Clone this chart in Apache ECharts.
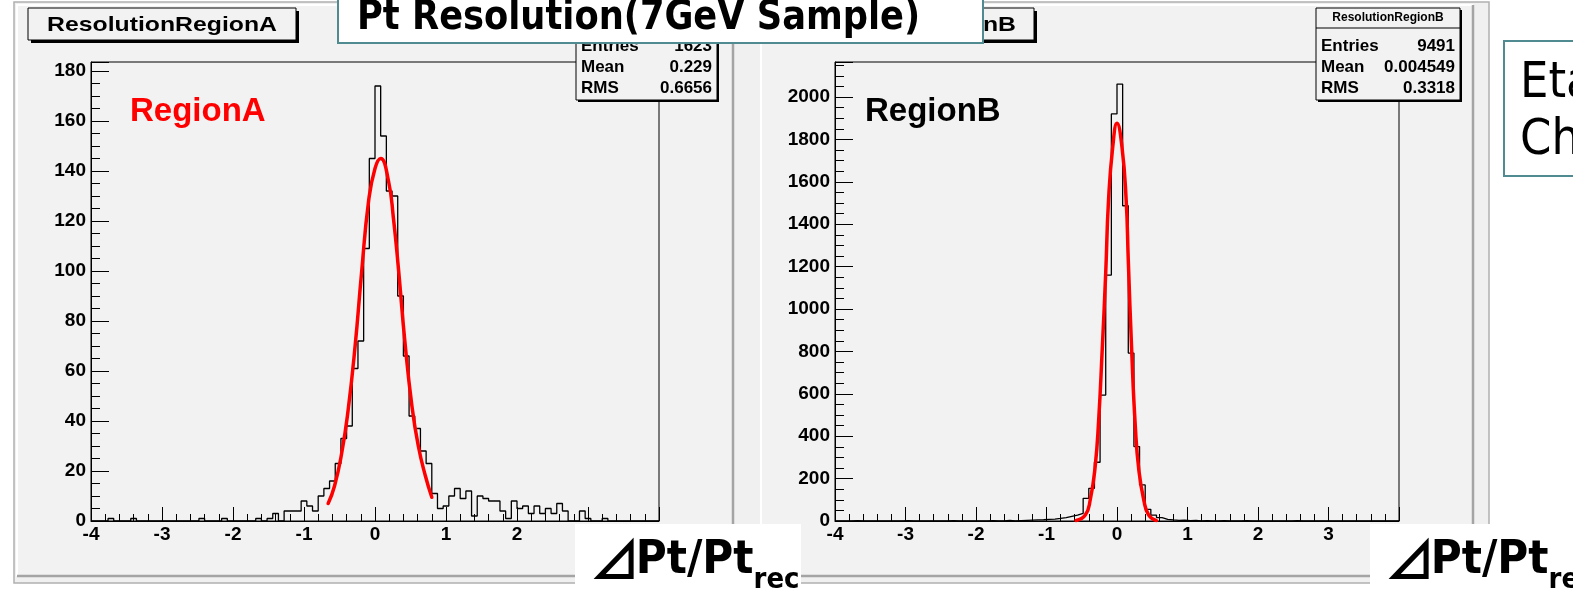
<!DOCTYPE html>
<html>
<head>
<meta charset="utf-8">
<script src="https://cdn.jsdelivr.net/npm/echarts@6/dist/echarts.min.js"></script>
<style>
  html, body { margin: 0; padding: 0; background: #ffffff; }
  #chart { width: 1573px; height: 589px; }
</style>
</head>
<body>
<div id="chart"></div>
<script>
// Histogram binning: 100 bins of 0.08 from -4 to 4
const binStart = -4;
const binWidth = 0.08;
const xTickLabels = ['-4', '-3', '-2', '-1', '0', '1', '2', '3'];

// Region A: counts per bin (dPt/Pt_rec)
const regionA = [
  0, 0, 0, 1, 0, 0, 0, 1, 0, 0,
  0, 0, 0, 0, 0, 0, 0, 0, 0, 1,
  0, 0, 0, 1, 0, 0, 0, 0, 0, 1,
  0, 1, 3, 0, 4, 4, 4, 8, 6, 4,
  10, 13, 16, 23, 33, 38, 61, 72, 109, 145,
  174, 154, 132, 130, 90, 66, 42, 37, 28, 23,
  11, 5, 6, 10, 13, 9, 12, 2, 10, 9,
  8, 8, 4, 1, 8, 5, 6, 3, 6, 3,
  5, 3, 7, 4, 0, 0, 4, 1, 0, 0,
  1, 0, 0, 0, 0, 0, 0, 0, 0, 0
];

// Region B: counts per bin
const regionB = [
  0, 0, 0, 2, 0, 0, 0, 0, 1, 0,
  0, 0, 2, 0, 0, 0, 1, 0, 0, 0,
  2, 0, 0, 0, 1, 0, 0, 2, 0, 0,
  3, 0, 2, 3, 4, 5, 6, 8, 9, 12,
  16, 22, 28, 36, 107, 154, 277, 594, 1160, 1920,
  2061, 1487, 792, 351, 170, 55, 28, 16, 8, 5,
  3, 4, 2, 3, 1, 2, 0, 1, 2, 0,
  1, 0, 2, 0, 0, 1, 0, 0, 1, 0,
  0, 2, 0, 0, 1, 0, 0, 0, 0, 1,
  0, 0, 0, 1, 0, 0, 0, 0, 0, 0
];

// Gaussian fit curves (points along the drawn fit)
const fitAx = [-0.66, -0.57, -0.47, -0.38, -0.28, -0.19, -0.09, 0, 0.08, 0.19, 0.26, 0.33, 0.42, 0.52, 0.61, 0.71, 0.8];
const fitAy = [7, 14, 27, 44, 70, 99, 128, 141, 145, 136, 121, 101, 72, 46, 30, 18, 9.5];
const fitBx = [-0.58, -0.45, -0.38, -0.31, -0.26, -0.21, -0.16, -0.12, -0.06, 0, 0.07, 0.13, 0.16, 0.21, 0.26, 0.31, 0.38, 0.45, 0.56];
const fitBy = [2, 28, 99, 256, 476, 806, 1170, 1514, 1766, 1876, 1766, 1514, 1231, 792, 445, 240, 99, 28, 2];

// Statistics boxes
const statsA = [['Entries', '1623'], ['Mean', '0.229'], ['RMS', '0.6656']];
const statsB = [['Entries', '9491'], ['Mean', '0.004549'], ['RMS', '0.3318']];

const yMaxA = 183.6;
const yMaxB = 2165;

const rootFont = '"Liberation Sans", Arial, sans-serif';
const slideFont = '"DejaVu Sans Condensed", "DejaVu Sans", sans-serif';
const padFill = '#f2f2f2';
const teal = '#4f8b90';

function stepData(counts) {
  const pts = counts.map((v, i) => [binStart + i * binWidth, v]);
  pts.push([binStart + counts.length * binWidth, counts[counts.length - 1]]);
  return pts;
}
function pairs(xs, ys) { return xs.map((x, i) => [x, ys[i]]); }

function measure(text, font) {
  const ctx = document.createElement('canvas').getContext('2d');
  ctx.font = font;
  return ctx.measureText(text);
}

function xAxisFor(gridIndex) {
  return {
    type: 'value', gridIndex, min: -4, max: 4, interval: 1,
    axisLine: { show: true, onZero: false, lineStyle: { color: '#000', width: 1 } },
    axisTick: { show: true, inside: true, length: 14, lineStyle: { color: '#000', width: 1 } },
    minorTick: { show: true, splitNumber: 5, length: 7, lineStyle: { color: '#000', width: 1 } },
    splitLine: { show: false },
    axisLabel: {
      show: true, margin: 4, color: '#000', fontFamily: rootFont, fontWeight: 'bold', fontSize: 19,
      showMaxLabel: false,
      formatter: v => xTickLabels[Math.round(v) + 4] || ''
    }
  };
}
function yAxisFor(gridIndex, max, interval) {
  return {
    type: 'value', gridIndex, min: 0, max, interval,
    axisLine: { show: true, onZero: false, lineStyle: { color: '#000', width: 1 } },
    axisTick: { show: true, inside: true, length: 18, lineStyle: { color: '#000', width: 1 } },
    minorTick: { show: true, splitNumber: 4, length: 9, lineStyle: { color: '#000', width: 1 } },
    splitLine: { show: false },
    axisLabel: {
      show: true, margin: 5, color: '#000', fontFamily: rootFont, fontWeight: 'bold', fontSize: 19,
      showMaxLabel: false,
      formatter: v => String(Math.round(v))
    }
  };
}

// ---------- decorations ----------
const graphics = [];

// outer ROOT canvas and two pads with bevelled borders
graphics.push({ type: 'rect', z: -5, silent: true, shape: { x: 14, y: 2, width: 1475, height: 581 },
  style: { fill: '#f0f0f0', stroke: '#b0b0b0', lineWidth: 1.5 } });
function pad(x, y, w, h) {
  graphics.push({ type: 'rect', z: -4, silent: true, shape: { x, y, width: w, height: h }, style: { fill: padFill } });
  graphics.push({ type: 'polyline', z: -3, silent: true, shape: { points: [[x, y + h], [x, y], [x + w, y]] },
    style: { stroke: '#ffffff', lineWidth: 2, fill: null } });
  graphics.push({ type: 'polyline', z: -3, silent: true, shape: { points: [[x + w, y], [x + w, y + h], [x, y + h]] },
    style: { stroke: '#a4a4a4', lineWidth: 2.5, fill: null } });
}
pad(17, 5, 716, 571);
pad(761, 5, 712, 571);

// histogram title boxes
function titleBox(x, y, w, h, text) {
  graphics.push({ type: 'rect', z: 60, silent: true, shape: { x: x + 3, y: y + 3, width: w, height: h }, style: { fill: '#000' } });
  graphics.push({ type: 'rect', z: 61, silent: true, shape: { x, y, width: w, height: h },
    style: { fill: padFill, stroke: '#000', lineWidth: 1 } });
  graphics.push({ type: 'text', z: 62, silent: true, x: x + w / 2, y: y + h / 2 + 1, scaleX: 1.18,
    style: { text, fill: '#000', font: 'bold 21px ' + rootFont, textAlign: 'center', textVerticalAlign: 'middle' } });
}
titleBox(28, 8, 268, 32, 'ResolutionRegionA');
titleBox(768, 8, 266, 32, 'ResolutionRegionB');

// statistics boxes
function statBox(x, y, w, title, rows) {
  const h = 92;
  graphics.push({ type: 'rect', z: 60, silent: true, shape: { x: x + 2, y: y + 2, width: w, height: h }, style: { fill: '#000' } });
  graphics.push({ type: 'rect', z: 61, silent: true, shape: { x, y, width: w, height: h },
    style: { fill: padFill, stroke: '#000', lineWidth: 1 } });
  graphics.push({ type: 'text', z: 62, silent: true, x: x + w / 2, y: y + 10,
    style: { text: title, fill: '#000', font: 'bold 12px ' + rootFont, textAlign: 'center', textVerticalAlign: 'middle' } });
  graphics.push({ type: 'line', z: 62, silent: true, shape: { x1: x, y1: y + 20, x2: x + w, y2: y + 20 },
    style: { stroke: '#000', lineWidth: 1 } });
  rows.forEach((r, i) => {
    const cy = y + 38 + i * 21;
    graphics.push({ type: 'text', z: 62, silent: true, x: x + 5, y: cy,
      style: { text: r[0], fill: '#000', font: 'bold 17px ' + rootFont, textAlign: 'left', textVerticalAlign: 'middle' } });
    graphics.push({ type: 'text', z: 62, silent: true, x: x + w - 5, y: cy,
      style: { text: r[1], fill: '#000', font: 'bold 17px ' + rootFont, textAlign: 'right', textVerticalAlign: 'middle' } });
  });
}
statBox(576, 8, 141, 'ResolutionRegionA', statsA);
statBox(1316, 8, 144, 'ResolutionRegionB', statsB);

// region labels
graphics.push({ type: 'text', z: 40, silent: true, x: 130, y: 112,
  style: { text: 'RegionA', fill: '#ff0000', font: 'bold 33px ' + rootFont, textAlign: 'left', textVerticalAlign: 'middle' } });
graphics.push({ type: 'text', z: 40, silent: true, x: 865, y: 112,
  style: { text: 'RegionB', fill: '#000000', font: 'bold 33px ' + rootFont, textAlign: 'left', textVerticalAlign: 'middle' } });

// slide title
graphics.push({ type: 'rect', z: 80, silent: true, shape: { x: 338, y: -20, width: 645, height: 63 },
  style: { fill: '#ffffff', stroke: teal, lineWidth: 2 } });
graphics.push({ type: 'text', z: 81, silent: true, x: 357, y: 19, scaleX: 0.98,
  style: { text: 'Pt Resolution(7GeV Sample)', fill: '#000', font: 'bold 40px ' + slideFont, textAlign: 'left', textVerticalAlign: 'middle' } });

// side note box
graphics.push({ type: 'rect', z: 80, silent: true, shape: { x: 1504, y: 41, width: 120, height: 135 },
  style: { fill: '#ffffff', stroke: teal, lineWidth: 2 } });
graphics.push({ type: 'text', z: 81, silent: true, x: 1520, y: 84,
  style: { text: 'Eta', fill: '#000', font: '50px ' + slideFont, textAlign: 'left', textVerticalAlign: 'middle' } });
graphics.push({ type: 'text', z: 81, silent: true, x: 1520, y: 141,
  style: { text: 'Ch', fill: '#000', font: '50px ' + slideFont, textAlign: 'left', textVerticalAlign: 'middle' } });

// axis title boxes: ⊿Pt/Pt_rec (delta triangle, main text, subscript)
function axisTitle(bx, bw) {
  graphics.push({ type: 'rect', z: 80, silent: true, shape: { x: bx, y: 524, width: bw, height: 70 }, style: { fill: '#ffffff' } });
  const triFont = 'bold 46px "Noto Sans CJK JP", "DejaVu Sans", sans-serif';
  const mainFont = 'bold 47px ' + slideFont;
  const subFont = 'bold 29px ' + slideFont;
  const triM = measure('⊿', triFont);
  const inkL = triM.actualBoundingBoxLeft || 0;
  const inkW = (triM.actualBoundingBoxRight || 24) + inkL;
  const triLeft = bx + 18;
  const sx = 1.1, sy = 1.1;
  // triangle scaled about its bottom-left ink corner
  graphics.push({ type: 'text', z: 81, silent: true, x: triLeft, y: 578,
    scaleX: sx, scaleY: sy, originX: 0, originY: 0,
    style: { text: '⊿', x: inkL, y: 6, fill: '#000', font: triFont, textAlign: 'left', textVerticalAlign: 'bottom' } });
  const mx = triLeft + inkW * sx + 2;
  graphics.push({ type: 'text', z: 81, silent: true, x: mx, y: 561,
    style: { text: 'Pt/Pt', fill: '#000', font: mainFont, textAlign: 'left', textVerticalAlign: 'middle' } });
  const w = measure('Pt/Pt', mainFont).width;
  graphics.push({ type: 'text', z: 81, silent: true, x: mx + w, y: 580,
    style: { text: 'rec', fill: '#000', font: subFont, textAlign: 'left', textVerticalAlign: 'middle' } });
}
axisTitle(575, 226);
axisTitle(1370, 210);

const chart = echarts.init(document.getElementById('chart'), null, { renderer: 'canvas' });
chart.setOption({
  animation: false,
  backgroundColor: '#ffffff',
  grid: [
    { left: 91, top: 62, width: 568, height: 459, show: true, borderColor: '#000', borderWidth: 1, backgroundColor: 'transparent' },
    { left: 835, top: 62, width: 564, height: 459, show: true, borderColor: '#000', borderWidth: 1, backgroundColor: 'transparent' }
  ],
  xAxis: [xAxisFor(0), xAxisFor(1)],
  yAxis: [yAxisFor(0, yMaxA, 20), yAxisFor(1, yMaxB, 200)],
  series: [
    { type: 'line', xAxisIndex: 0, yAxisIndex: 0, step: 'end', data: stepData(regionA),
      showSymbol: false, lineStyle: { color: '#000', width: 1.3 }, z: 3 },
    { type: 'line', xAxisIndex: 0, yAxisIndex: 0, smooth: true, data: pairs(fitAx, fitAy),
      showSymbol: false, lineStyle: { color: '#ff0000', width: 3.5, cap: 'round' }, z: 4 },
    { type: 'line', xAxisIndex: 1, yAxisIndex: 1, step: 'end', data: stepData(regionB),
      showSymbol: false, lineStyle: { color: '#000', width: 1.3 }, z: 3 },
    { type: 'line', xAxisIndex: 1, yAxisIndex: 1, smooth: true, data: pairs(fitBx, fitBy),
      showSymbol: false, lineStyle: { color: '#ff0000', width: 3.5, cap: 'round' }, z: 4 }
  ],
  graphic: { elements: graphics }
});
</script>
</body>
</html>
